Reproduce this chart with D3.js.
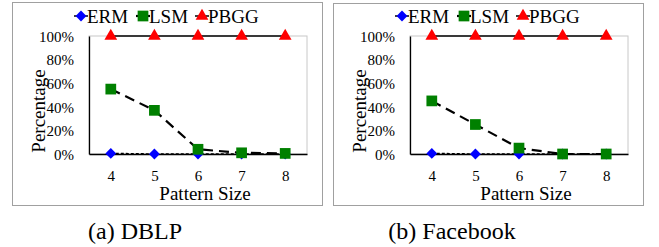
<!DOCTYPE html>
<html>
<head>
<meta charset="utf-8">
<script src="https://cdn.jsdelivr.net/npm/d3@7"></script>
</head>
<body style="margin:0; background:#fff">
<script>
// Werte
const patternSizes = [4, 5, 6, 7, 8];
const yTicks = [0, 20, 40, 60, 80, 100];
const seriesNames = ["ERM", "LSM", "PBGG"];

const dblpERM = [0.5, 0, 0, 0, 0];
const dblpLSM = [55, 37, 4, 1, 0.5];
const dblpPBGG = [100, 100, 100, 100, 100];

const fbERM = [0.5, 0, 0, 0, 0];
const fbLSM = [45, 25, 5, 0, 0];
const fbPBGG = [100, 100, 100, 100, 100];

const captions = ["(a) DBLP", "(b) Facebook"];

// Stil je Serie
const styles = {
    ERM:  {color: "#0000ff", shape: d3.symbolDiamond2, size: 75, dash: "3,2", width: 1.5},
    LSM:  {color: "#008000", shape: d3.symbolSquare, size: 115, dash: "10,6", width: 2.2},
    PBGG: {color: "#ff0000", shape: d3.symbolTriangle, size: 70, dash: null, width: 1.5}
};

const svg = d3.select("body").append("svg")
    .attr("width", 659)
    .attr("height", 247);

function label(sel, size) {
    return sel
        .attr("font-family", "Liberation Serif")
        .attr("font-size", size)
        .style("font", `${size}px "Liberation Serif", Tinos, "Liberation Sans Narrow", serif`);
}

function panel(ox, frameTop, series, caption, capX) {
    const g = svg.append("g").attr("transform", `translate(${ox},0)`);

    // Rahmen
    g.append("rect")
        .attr("x", 0.5).attr("y", frameTop + 0.5)
        .attr("width", 310).attr("height", 205 - frameTop)
        .attr("fill", "none").attr("stroke", "#a0a0a0");

    const plot = {left: 77, right: 295, top: 36, bottom: 154};

    const x = d3.scalePoint()
        .domain(patternSizes)
        .range([plot.left, plot.right])
        .padding(0.5);
    const y = d3.scaleLinear()
        .domain([0, 100])
        .range([plot.bottom, plot.top]);

    // Plotbereich
    g.append("rect")
        .attr("x", plot.left).attr("y", plot.top)
        .attr("width", plot.right - plot.left).attr("height", plot.bottom - plot.top)
        .attr("fill", "none").attr("stroke", "#c8c8c8");

    // Achsen
    const yAxis = g.append("g")
        .attr("transform", `translate(${plot.left},0)`)
        .call(d3.axisLeft(y).tickValues(yTicks).tickSize(0).tickPadding(15)
            .tickFormat(d => d + "%"))
        .attr("font-family", "Liberation Serif").attr("font-size", 15);
    yAxis.select(".domain").attr("stroke", "#000").attr("stroke-width", 1.3);
    label(yAxis.selectAll("text"), 15).attr("dy", "0.35em");

    const xAxis = g.append("g")
        .attr("transform", `translate(0,${plot.bottom})`)
        .call(d3.axisBottom(x).tickSize(0).tickPadding(16))
        .attr("font-family", "Liberation Serif").attr("font-size", 15);
    xAxis.select(".domain").attr("stroke", "#000").attr("stroke-width", 1.3);
    label(xAxis.selectAll("text"), 15);

    // Linien und Marker
    seriesNames.forEach(function (name, i) {
        const st = styles[name];
        const vals = series[i];
        const line = d3.line()
            .x((d, j) => x(patternSizes[j]))
            .y(d => y(d));
        g.append("path")
            .datum(vals)
            .attr("d", line)
            .attr("fill", "none")
            .attr("stroke", "#000")
            .attr("stroke-width", st.width)
            .attr("stroke-dasharray", st.dash);
        g.selectAll(".m" + name)
            .data(vals)
            .enter().append("path")
            .attr("class", "m" + name)
            .attr("transform", (d, j) => `translate(${x(patternSizes[j])},${y(d)})`)
            .attr("d", d3.symbol().type(st.shape).size(st.size))
            .attr("fill", st.color);
    });

    // Legende
    const legX = [69, 131, 190];
    seriesNames.forEach(function (name, i) {
        const st = styles[name];
        const lg = g.append("g").attr("transform", `translate(${legX[i]},16)`);
        lg.append("line")
            .attr("x1", -7).attr("x2", 7)
            .attr("stroke", "#000").attr("stroke-width", st.width);
        lg.append("path")
            .attr("d", d3.symbol().type(st.shape).size(st.size))
            .attr("fill", st.color);
        label(lg.append("text"), 19)
            .attr("x", 6).attr("y", 7)
            .text(name);
    });

    // Achsentitel
    label(g.append("text"), 19)
        .attr("text-anchor", "middle")
        .attr("x", 193).attr("y", 200)
        .text("Pattern Size");
    label(g.append("text"), 19)
        .attr("text-anchor", "middle")
        .attr("transform", "translate(33,111) rotate(-90)")
        .text("Percentage");

    // Unterschrift
    label(svg.append("text"), 24)
        .attr("text-anchor", "middle")
        .attr("x", capX).attr("y", 239)
        .text(caption);
}

panel(12, 2, [dblpERM, dblpLSM, dblpPBGG], captions[0], 135);
panel(333, 3, [fbERM, fbLSM, fbPBGG], captions[1], 452);
</script>
</body>
</html>
